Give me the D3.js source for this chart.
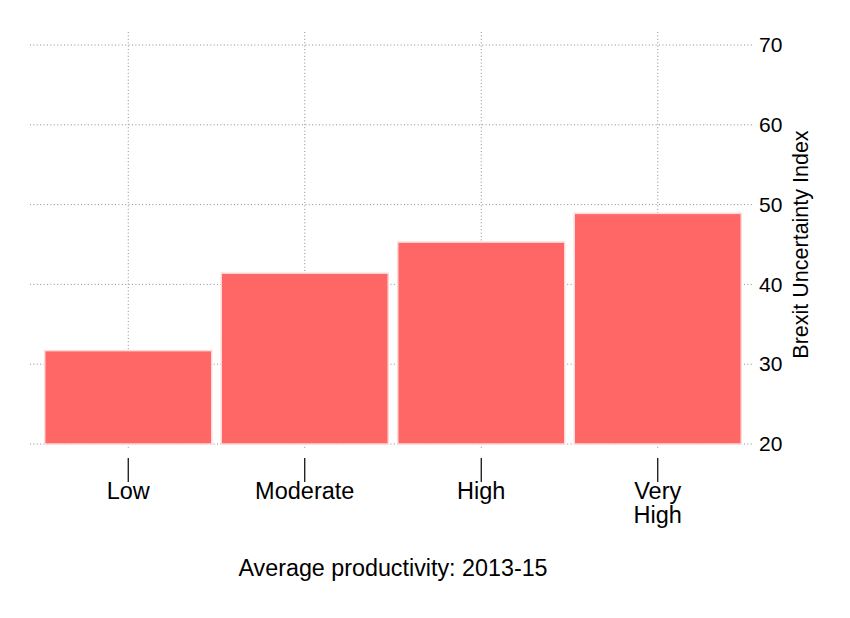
<!DOCTYPE html>
<html>
<head>
<meta charset="utf-8">
<script src="https://cdn.jsdelivr.net/npm/d3@7"></script>
<style>
  body { margin: 0; background: #fff; }
  svg { font-family: "Liberation Sans", Arial, sans-serif; }
  .grid line { stroke: #8c8c8c; stroke-width: 1; stroke-dasharray: 1, 2.4; }
</style>
</head>
<body>
<svg id="vis" width="850" height="618"></svg>
<script>
const categories = ["Low", "Moderate", "High", "Very High"];
const values = [31.7, 41.4, 45.3, 48.9];
const yTicks = [20, 30, 40, 50, 60, 70];

translate = function(a, b) {
  return "translate(" + a + ", " + b + ")";
}

const svg = d3.select("#vis");

let x = d3.scaleBand()
  .domain(categories)
  .range([40, 746])
  .paddingInner(0.054)
  .paddingOuter(0.027);

let y = d3.scaleLinear().domain([20, 70]).range([444, 45]);

// gridlines
let grid = svg.append("g").attr("class", "grid");

grid.selectAll("line.h")
  .data(yTicks)
  .enter()
  .append("line")
  .attr("class", "h")
  .attr("x1", x.range()[0] - 10)
  .attr("x2", x.range()[1] + 6)
  .attr("y1", d => y(d))
  .attr("y2", d => y(d));

grid.selectAll("line.v")
  .data(categories)
  .enter()
  .append("line")
  .attr("class", "v")
  .attr("x1", d => x(d) + x.bandwidth() / 2)
  .attr("x2", d => x(d) + x.bandwidth() / 2)
  .attr("y1", y(70) - 13)
  .attr("y2", y(20) + 6);

// bars
svg.selectAll("rect.bar")
  .data(categories)
  .enter()
  .append("rect")
  .attr("class", "bar")
  .attr("x", d => x(d))
  .attr("y", (d, i) => y(values[i]))
  .attr("width", x.bandwidth())
  .attr("height", (d, i) => y(20) - y(values[i]))
  .style("fill", "#ff6666")
  .style("stroke", "#ffd9d9")
  .style("stroke-width", 1.5);

// x axis
let xAxis = d3.axisBottom(x).tickSize(24).tickPadding(0);
let xGroup = svg.append("g").attr("transform", translate(0, 458)).call(xAxis);
xGroup.select(".domain").remove();
xGroup.selectAll(".tick line").attr("stroke", "#000").attr("stroke-width", 1.2);
xGroup.selectAll(".tick text")
  .attr("fill", "#000")
  .style("font-size", "23.5px")
  .each(function(d) {
    let words = d.split(" ");
    let label = d3.select(this);
    label.text("");
    words.forEach(function(w, i) {
      label.append("tspan")
        .attr("x", 0)
        .attr("dy", i == 0 ? "0.71em" : "1.03em")
        .text(w);
    });
  });

// y axis on the right
let yAxis = d3.axisRight(y).tickValues(yTicks).tickSize(0).tickPadding(0);
let yGroup = svg.append("g").attr("transform", translate(759, 0)).call(yAxis);
yGroup.select(".domain").remove();
yGroup.selectAll(".tick text")
  .attr("fill", "#000")
  .style("font-size", "21px");

// axis titles
svg.append("text")
  .attr("transform", translate(808, (y(20) + y(70)) / 2) + " rotate(-90)")
  .attr("text-anchor", "middle")
  .style("font-size", "21.5px")
  .text("Brexit Uncertainty Index");

svg.append("text")
  .attr("x", (x.range()[0] + x.range()[1]) / 2)
  .attr("y", 576)
  .attr("text-anchor", "middle")
  .style("font-size", "23.3px")
  .text("Average productivity: 2013-15");
</script>
</body>
</html>
